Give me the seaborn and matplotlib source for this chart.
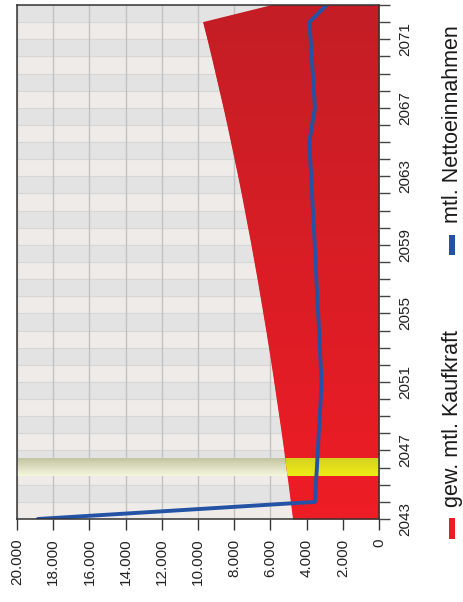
import numpy as np
import matplotlib
matplotlib.use("Agg")
import matplotlib.pyplot as plt
from matplotlib.colors import LinearSegmentedColormap
from matplotlib.patches import Rectangle
import seaborn as sns

# years (vertical axis after rotation)
YEARS = list(range(2043, 2074))
# gew. mtl. Kaufkraft (red area)
KAUFKRAFT = [4750, 4870, 4990, 5120, 5240, 5370, 5510, 5650, 5790, 5930,
             6080, 6230, 6390, 6550, 6710, 6880, 7050, 7230, 7410, 7590,
             7780, 7980, 8180, 8380, 8590, 8810, 9030, 9250, 9480, 9720,
             5900]
# mtl. Nettoeinnahmen (blue line)
NETTO = [18850, 3540, 3490, 3430, 3380, 3330, 3270, 3220, 3170, 3220,
         3270, 3310, 3360, 3410, 3460, 3500, 3550, 3600, 3650, 3700,
         3750, 3800, 3850, 3700, 3540, 3600, 3660, 3720, 3780, 3850,
         2890]
HIGHLIGHT_YEAR = 2046
VALUE_TICKS = list(range(0, 20001, 2000))
YEAR_LABELS = list(range(2043, 2072, 4))

LABEL_RED = "gew. mtl. Kaufkraft"
LABEL_BLUE = "mtl. Nettoeinnahmen"

RED_TOP, RED_BOTTOM = "#c41e26", "#ee1c25"
YEL_TOP, YEL_BOTTOM = "#d4d21e", "#eeec16"
PALE_TOP, PALE_BOTTOM = "#c2c3a2", "#f6f8de"
BLUE = "#2453a5"
STRIPE_LIGHT, STRIPE_DARK = "#eeebe8", "#e3e3e3"

sns.set_theme(style="white")
plt.rcParams["font.family"] = ["Liberation Sans", "DejaVu Sans"]

fig = plt.figure(figsize=(4.63, 6.02), dpi=100)
ax = fig.add_axes([17 / 463, 83 / 602, 362 / 463, 514 / 602])


def vgrad(bottom, top):
    return LinearSegmentedColormap.from_list("g", [bottom, top])


grad = np.linspace(0, 1, 256).reshape(-1, 1)

# alternating year stripes
for i, yr in enumerate(YEARS[:-1]):
    ax.axhspan(yr, yr + 1, color=STRIPE_LIGHT if i % 2 == 0 else STRIPE_DARK,
               lw=0, zorder=0)
for yr in YEARS:
    ax.axhline(yr, color="#d6d6d6", lw=0.8, zorder=0.5)
for v in VALUE_TICKS:
    ax.axvline(v, color="#c2c2c2", lw=1.0, zorder=0.6)

# pale highlight band over whole width
ax.imshow(grad, cmap=vgrad(PALE_BOTTOM, PALE_TOP), aspect="auto", origin="lower",
          extent=[VALUE_TICKS[-1], 0, HIGHLIGHT_YEAR - 0.5, HIGHLIGHT_YEAR + 0.5],
          zorder=1)

# red area with vertical gradient
area = ax.fill_betweenx(YEARS, 0, KAUFKRAFT, color=RED_BOTTOM, lw=0, zorder=2)
clip = area.get_paths()[0]
im = ax.imshow(grad, cmap=vgrad(RED_BOTTOM, RED_TOP), aspect="auto", origin="lower",
               extent=[VALUE_TICKS[-1], 0, YEARS[0], YEARS[-1]], zorder=2.1)
im.set_clip_path(clip, ax.transData)

# yellow highlight where the band crosses the red area
yim = ax.imshow(grad, cmap=vgrad(YEL_BOTTOM, YEL_TOP), aspect="auto", origin="lower",
                extent=[VALUE_TICKS[-1], 0, HIGHLIGHT_YEAR - 0.5, HIGHLIGHT_YEAR + 0.5],
                zorder=3)
yim.set_clip_path(clip, ax.transData)

sns.lineplot(x=NETTO, y=YEARS, orient="y", sort=False, color=BLUE, lw=2.8,
             ax=ax, zorder=4)

ax.set_xlim(VALUE_TICKS[-1], 0)
ax.set_ylim(YEARS[0], YEARS[-1])

ax.set_xticks(VALUE_TICKS)
ax.set_xticklabels([f"{v:,}".replace(",", ".") for v in VALUE_TICKS])
ax.set_yticks(YEAR_LABELS)
ax.set_yticks(YEARS, minor=True)
ax.set_yticklabels([str(y) for y in YEAR_LABELS])

ax.yaxis.tick_right()
ax.tick_params(axis="y", which="both", length=8, width=1, color="#444",
               right=True, left=False, labelright=True, labelleft=False,
               labelrotation=90, pad=6, labelsize=11, labelcolor="#222")
ax.tick_params(axis="x", which="both", length=8, width=1, color="#333",
               bottom=True, labelrotation=90, pad=6, labelsize=11, labelcolor="#222")
for lab in ax.get_yticklabels():
    lab.set_va("center")

for side in ["left", "top", "bottom", "right"]:
    ax.spines[side].set_visible(True)
    ax.spines[side].set_color("#333")
    ax.spines[side].set_linewidth(1.1)
    ax.spines[side].set_zorder(5)

ax.set_xlabel("")
ax.set_ylabel("")

# legend (rotated, like the rest of the chart)
fig.patches.append(Rectangle((449 / 463, 63 / 602), 6 / 463, 21 / 602,
                             transform=fig.transFigure, color="#ee1c25", lw=0))
fig.patches.append(Rectangle((449 / 463, 347 / 602), 6 / 463, 20 / 602,
                             transform=fig.transFigure, color=BLUE, lw=0))
fig.text(0.978, 95 / 602, LABEL_RED, rotation=90, ha="center", va="bottom",
         fontsize=15.5, color="#1a1a1a")
fig.text(0.978, 379 / 602, LABEL_BLUE, rotation=90, ha="center", va="bottom",
         fontsize=15.5, color="#1a1a1a")

fig.savefig("out.png", dpi=100)
